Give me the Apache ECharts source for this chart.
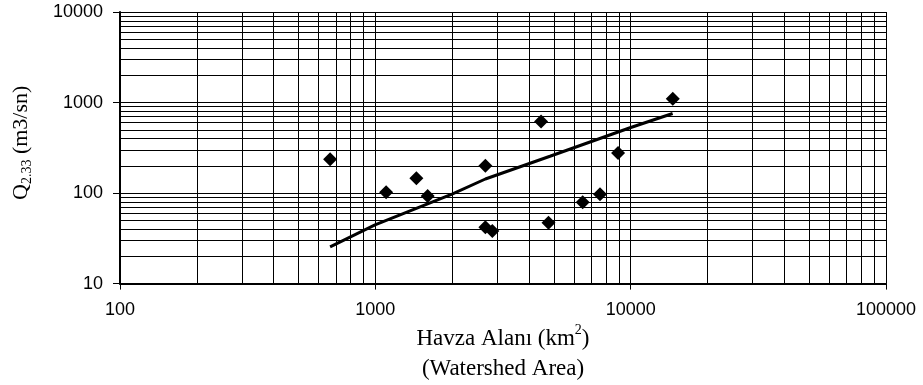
<!DOCTYPE html>
<html>
<head>
<meta charset="utf-8">
<script src="https://cdn.jsdelivr.net/npm/echarts@6/dist/echarts.min.js"></script>
<style>
  html, body { margin: 0; padding: 0; background: #fff; }
  #chart { width: 923px; height: 385px; }
</style>
</head>
<body>
<div id="chart"></div>
<script>
// havza alani (km2) / Q2.33 (m3/sn) olcum noktalari
const areaKm2 = [665, 1102, 1448, 1603, 2698, 2698, 2872, 4457, 4766, 6489, 7586, 8924, 14620]
const q233 = [236, 102, 146, 93, 200, 42, 38, 618, 47, 79, 97, 277, 1099]

// trend cizgisi
const trendArea = [665, 997, 1997, 2698, 4831, 9945, 14600]
const trendQ = [25.5, 44.5, 97.5, 143, 255, 527, 757]

// ara izgara cizgileri
const xDecades = [100, 1000, 10000]
const yDecades = [10, 100, 1000]
const minorSteps = [2, 3, 4, 5, 6, 7, 8, 9]

const serif = '"Liberation Serif", "Times New Roman", serif'
const sans = '"Liberation Sans", Arial, sans-serif'

let minorLines = []
xDecades.forEach(d => minorSteps.forEach(m => minorLines.push({xAxis: d * m})))
yDecades.forEach(d => minorSteps.forEach(m => minorLines.push({yAxis: d * m})))

const chart = echarts.init(document.getElementById('chart'))
chart.setOption({
  animation: false,
  grid: {
    left: 120,
    right: 37,
    top: 12,
    bottom: 100
  },
  xAxis: {
    type: 'log',
    logBase: 10,
    min: 100,
    max: 100000,
    name: '{a|Havza Alanı (km}{sup|2}{a|)}\n{a|(Watershed Area)}',
    nameLocation: 'middle',
    nameGap: 38,
    nameTextStyle: {
      rich: {
        a: {fontFamily: serif, fontSize: 23, color: '#000', lineHeight: 30},
        sup: {fontFamily: serif, fontSize: 14, color: '#000', verticalAlign: 'top', lineHeight: 30}
      }
    },
    axisLine: {lineStyle: {color: '#000', width: 2}},
    axisTick: {show: true, inside: false, length: 6, lineStyle: {color: '#000'}},
    axisLabel: {
      margin: 17,
      color: '#000',
      fontFamily: sans,
      fontSize: 18,
      formatter: v => String(Math.round(v))
    },
    splitLine: {show: true, lineStyle: {color: '#000', width: 1}},
    minorTick: {show: false},
    minorSplitLine: {show: false}
  },
  yAxis: {
    type: 'log',
    logBase: 10,
    min: 10,
    max: 10000,
    name: '{q|Q}{sub|2.33}{q| (m3/sn)}',
    nameLocation: 'middle',
    nameGap: 86,
    nameTextStyle: {
      padding: [0, 0, 0, 10],
      rich: {
        q: {fontFamily: serif, fontSize: 22, color: '#000', lineHeight: 26},
        sub: {fontFamily: serif, fontSize: 14, color: '#000', verticalAlign: 'bottom', lineHeight: 26}
      }
    },
    axisLine: {show: true, lineStyle: {color: '#000', width: 2}},
    axisTick: {show: true, inside: false, length: 7, lineStyle: {color: '#000'}},
    axisLabel: {
      margin: 17,
      color: '#000',
      fontFamily: sans,
      fontSize: 18,
      formatter: v => String(Math.round(v))
    },
    splitLine: {show: true, lineStyle: {color: '#000', width: 1}}
  },
  series: [
    {
      name: 'grid',
      type: 'line',
      data: [],
      silent: true,
      z: 1,
      markLine: {
        silent: true,
        symbol: 'none',
        animation: false,
        label: {show: false},
        lineStyle: {color: '#000', width: 1, type: 'solid'},
        data: minorLines
      }
    },
    {
      name: 'trend',
      type: 'line',
      data: trendArea.map((a, i) => [a, trendQ[i]]),
      showSymbol: false,
      symbol: 'none',
      z: 3,
      lineStyle: {color: '#000', width: 3}
    },
    {
      name: 'Q2.33',
      type: 'scatter',
      data: areaKm2.map((a, i) => [a, q233[i]]),
      symbol: 'diamond',
      symbolSize: 14,
      z: 4,
      itemStyle: {color: '#000', opacity: 1}
    }
  ]
})
</script>
</body>
</html>
